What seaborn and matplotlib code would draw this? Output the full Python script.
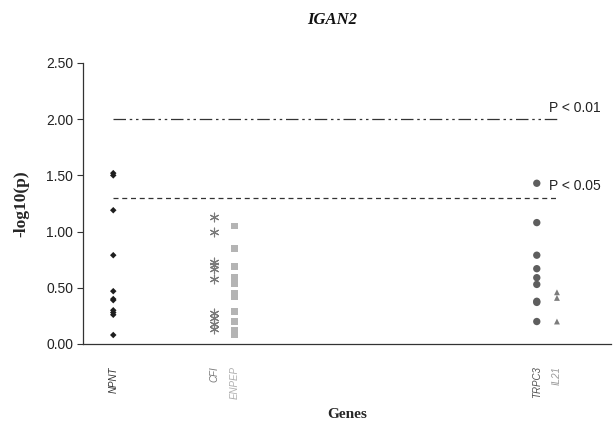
import matplotlib
matplotlib.use("Agg")
import matplotlib.pyplot as plt
import seaborn as sns
import pandas as pd

# ---- data ----
genes = ["NPNT", "CFI", "ENPEP", "TRPC3", "IL21"]
gene_pos = [1, 6, 7, 22, 23]          # slot along the x axis

npnt = [1.52, 1.50, 1.19, 0.79, 0.47, 0.40, 0.39, 0.30, 0.28, 0.26, 0.08]
cfi = [1.13, 1.00, 0.73, 0.70, 0.67, 0.58, 0.28, 0.23, 0.18, 0.13]
enpep = [1.05, 0.85, 0.69, 0.59, 0.54, 0.45, 0.42, 0.29, 0.20, 0.12, 0.08]
trpc3 = [1.43, 1.08, 0.79, 0.67, 0.59, 0.53, 0.38, 0.37, 0.20]
il21 = [0.46, 0.41, 0.20]

thresholds = [2.00, 1.30]
threshold_labels = ["P < 0.01", "P < 0.05"]
yticks = [0.0, 0.5, 1.0, 1.5, 2.0, 2.5]

values = [npnt, cfi, enpep, trpc3, il21]
rows = []
for g, p, vals in zip(genes, gene_pos, values):
    for v in vals:
        rows.append({"gene": g, "pos": p, "logp": v})
df = pd.DataFrame(rows)

# ---- styles ----
marker_style = {
    "NPNT": dict(marker="D", s=11, color="#1e1e1e"),
    "CFI": dict(marker=(6, 2, 0), s=40, color="#7a7a7a", linewidth=0.8),
    "ENPEP": dict(marker="s", s=22, color="#b4b4b4"),
    "TRPC3": dict(marker="o", s=28, color="#5e5e5e"),
    "IL21": dict(marker="^", s=18, color="#7c7c7c"),
}
label_colors = ["#333333", "#7a7a7a", "#b0b0b0", "#555555", "#9a9a9a"]

sns.set_style("white")
plt.rcParams["font.family"] = ["Liberation Sans", "DejaVu Sans"]

fig = plt.figure(figsize=(6.13, 4.21), dpi=100)
ax = fig.add_axes([0.1354, 0.1829, 0.862, 0.6675])

for g in genes:
    sub = df[df["gene"] == g]
    st = marker_style[g]
    kw = dict(marker=st["marker"], s=st["s"], color=st["color"])
    if g == "CFI":
        kw["linewidth"] = st["linewidth"]
    else:
        kw["edgecolor"] = "none"
    sns.scatterplot(data=sub, x="pos", y="logp", ax=ax, legend=False, **kw)

# significance lines
x0, x1 = gene_pos[0], gene_pos[-1]
ax.plot([x0, x1], [thresholds[0]] * 2, color="#333333", lw=0.9,
        dashes=[10, 3, 2, 3, 2, 3])
ax.plot([x0, x1], [thresholds[1]] * 2, color="#333333", lw=0.9,
        dashes=[4, 3])
for t, lab in zip(thresholds, threshold_labels):
    ax.text(22.6, t + 0.04, lab, fontsize=10, color="#222222",
            ha="left", va="bottom")

ax.set_xlim(-0.5, 25.7)
ax.set_ylim(0, 2.5)
ax.set_yticks(yticks)
ax.set_yticklabels([f"{t:.2f}" for t in yticks], fontsize=10, color="#222222")
ax.set_xticks(gene_pos)
ax.set_xticklabels(genes, rotation=90, fontsize=7, style="italic")
for lab, c in zip(ax.get_xticklabels(), label_colors):
    lab.set_color(c)
ax.tick_params(axis="x", length=0, pad=16)
ax.tick_params(axis="y", length=4, width=0.8, color="#333333", direction="out",
               left=True, pad=3)

sns.despine(ax=ax)
for sp in ["left", "bottom"]:
    ax.spines[sp].set_color("#333333")
    ax.spines[sp].set_linewidth(0.9)

ax.set_ylabel("-log10(p)", family="Liberation Serif", fontweight="bold",
              fontsize=12.5, labelpad=12)
ax.set_xlabel("Genes", family="Liberation Serif", fontweight="bold",
              fontsize=11, labelpad=6)
fig.text(332 / 613, 1 - 20 / 421, "IGAN2", family="Liberation Serif",
         fontweight="bold", style="italic", fontsize=12, ha="center",
         va="center", color="#111111")

fig.savefig("out.png", dpi=100)
